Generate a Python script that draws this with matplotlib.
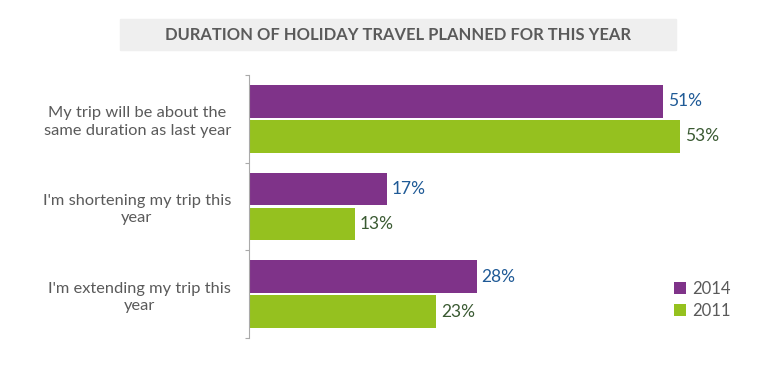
import numpy as np
import matplotlib.pyplot as plt
from matplotlib.patches import Rectangle

# data
categories = ["My trip will be about the\nsame duration as last year",
              "I'm shortening my trip this\nyear",
              "I'm extending my trip this\nyear"]
values_2014 = [51, 17, 28]
values_2011 = [53, 13, 23]
series_names = ["2014", "2011"]

purple = "#7f3389"
green = "#95c11f"
grey_text = "#5a5a5a"

plt.rcParams['font.family'] = ['Lato', 'DejaVu Sans']

fig = plt.figure(figsize=(7.68, 3.71), dpi=100)
ax = fig.add_axes([249 / 768, 33 / 371, 512 / 768, 263 / 371])

y = np.arange(len(categories))
h = 0.375
gap = 0.012
b1 = ax.barh(y - h / 2 - gap, values_2014, height=h, color=purple, label=series_names[0])
b2 = ax.barh(y + h / 2 + gap, values_2011, height=h, color=green, label=series_names[1])

for bar, v in zip(b1, values_2014):
    ax.text(v + 0.6, bar.get_y() + bar.get_height() / 2, f"{v}%", va='center',
            ha='left', fontsize=12.5, color="#1f5a96")
for bar, v in zip(b2, values_2011):
    ax.text(v + 0.6, bar.get_y() + bar.get_height() / 2, f"{v}%", va='center',
            ha='left', fontsize=12.5, color="#3a5a32")

ax.set_xlim(0, 63)
ax.set_ylim(len(categories) - 0.5, -0.5)
ax.set_xticks([])
ax.set_yticks(np.arange(len(categories) + 1) - 0.5)
ax.set_yticklabels([])
ax.set_yticks(y, minor=True)
ax.set_yticklabels(categories, minor=True, fontsize=11.8, color=grey_text,
                   ha='right', multialignment='center', linespacing=1.3)
ax.tick_params(axis='y', which='minor', length=0, pad=13)
ax.tick_params(axis='y', which='major', length=3, color="#aaaaaa")
for s in ['top', 'right', 'bottom']:
    ax.spines[s].set_visible(False)
ax.spines['left'].set_color("#aaaaaa")

# title with light grey band
fig.patches.append(Rectangle((120 / 768, 1 - 50 / 371), 556 / 768, 31 / 371,
                             transform=fig.transFigure, color="#efefef", zorder=0))
fig.text(398 / 768, 1 - 35 / 371, "DURATION OF HOLIDAY TRAVEL PLANNED FOR THIS YEAR",
         ha='center', va='center', fontsize=11.9, fontweight='bold', color=grey_text)

leg = ax.legend(loc='lower left', bbox_to_anchor=(666 / 768, 44 / 371),
                bbox_transform=fig.transFigure, frameon=False, fontsize=12,
                handlelength=0.7, handleheight=0.7, handletextpad=0.4,
                labelspacing=0.35, borderpad=0)
for t in leg.get_texts():
    t.set_color(grey_text)

fig.savefig("out.png", dpi=100)
